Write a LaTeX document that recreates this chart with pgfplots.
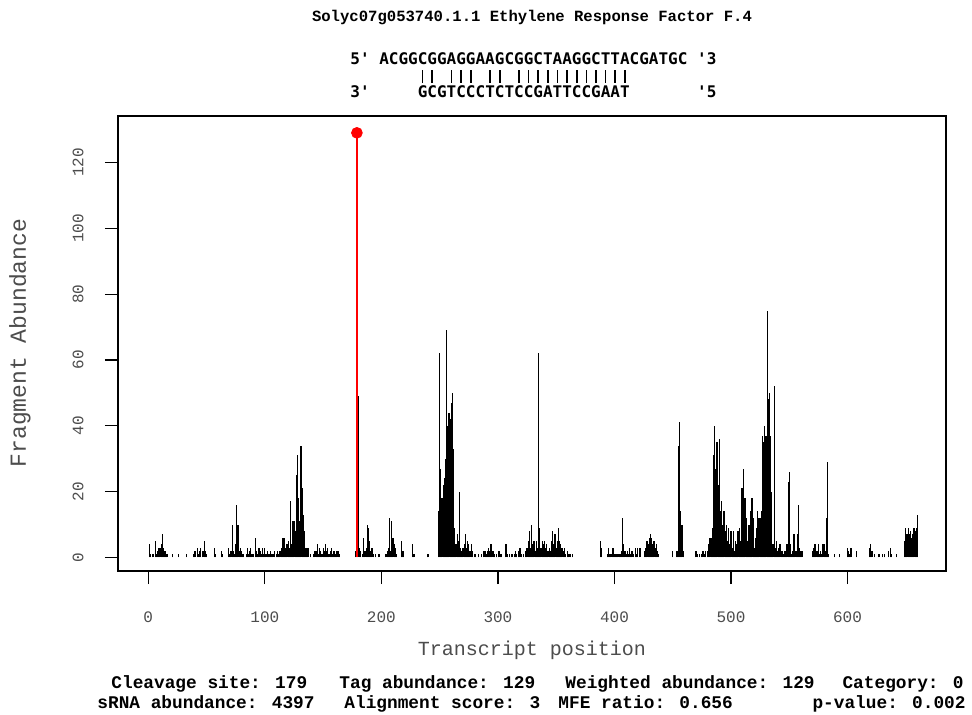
\documentclass[border=0pt]{standalone}
\usepackage{fontspec}
\usepackage{pgfplots}
\pgfplotsset{compat=1.18}
\usepackage{pgfplotstable}
\newfontfamily\cour{Liberation Mono}
\newfontfamily\dvm{DejaVu Sans Mono}
\definecolor{lab}{gray}{0.3}
\newcommand{\spc}{\hphantom{0}}
\newcommand{\br}{\makebox[4.816pt]{\rule{0.8pt}{6.5pt}}}
\newcommand{\bs}{\hspace{4.816pt}}
\pgfplotstableread{
x y
1 4
2 1
4 1
6 5
7 1
8 2
9 3
10 3
11 4
12 7
13 3
14 2
15 2
16 1
21 1
26 1
33 1
39 1
40 2
42 3
43 1
44 2
45 3
47 2
48 5
49 2
50 1
57 3
58 1
63 2
64 1
69 3
70 1
71 2
72 10
73 2
74 1
75 4
76 16
77 10
78 2
79 3
80 2
81 1
82 1
84 1
85 3
86 1
87 2
88 3
89 1
90 1
92 6
93 2
94 1
95 3
96 2
97 1
98 3
99 1
100 3
101 1
102 2
103 1
104 1
105 2
106 1
107 1
108 2
110 1
111 2
112 1
113 2
114 3
115 6
116 6
117 6
118 3
119 4
120 5
121 3
122 17
123 4
124 11
125 11
126 8
127 25
128 31
129 18
130 11
131 34
132 21
133 13
134 8
135 3
136 3
137 3
139 1
142 1
143 2
144 2
145 4
146 1
147 3
148 2
149 1
150 3
151 2
152 4
153 2
154 3
155 1
156 2
157 3
158 1
159 2
160 2
161 1
162 2
163 2
164 1
178 2
180 49
181 3
182 2
184 1
185 6
186 2
187 3
188 10
189 9
190 5
191 2
192 3
193 1
195 1
198 1
204 1
205 2
206 3
207 12
208 2
209 11
210 6
211 4
212 3
213 1
217 5
218 2
219 2
227 4
228 1
240 1
249 14
250 62
251 27
252 18
253 22
254 24
255 30
256 69
257 40
258 44
259 42
260 47
261 50
262 33
263 9
264 4
265 7
266 5
267 20
268 3
269 2
270 3
271 4
272 7
273 3
274 5
275 4
276 2
277 4
278 2
280 1
281 1
283 1
286 1
288 2
289 2
290 1
291 2
292 3
293 2
294 4
295 2
296 2
297 1
299 1
301 2
302 1
303 1
307 4
308 1
310 1
312 1
314 1
315 2
316 1
318 2
319 3
320 1
322 1
324 2
325 3
326 5
327 8
328 3
329 10
330 4
331 5
332 2
333 5
334 3
335 62
336 9
337 3
338 5
339 4
340 5
341 3
342 4
343 2
344 3
345 2
346 5
347 8
348 4
349 7
350 3
351 5
352 9
353 5
354 4
355 3
356 2
357 3
358 1
360 2
361 1
362 1
364 1
388 5
389 3
394 1
395 3
396 1
397 1
398 3
399 3
400 1
401 1
402 1
403 1
404 1
405 1
406 2
407 12
408 4
409 2
410 1
411 2
412 1
413 3
414 1
415 2
416 1
418 3
419 1
420 3
422 3
426 2
427 3
428 5
429 4
430 6
431 7
432 6
433 4
434 5
435 3
436 4
437 2
438 1
450 2
453 2
454 2
455 34
456 41
457 14
458 10
459 2
470 2
471 1
473 1
475 1
476 2
477 1
478 2
480 2
481 4
482 6
483 6
484 9
485 31
486 40
487 27
488 35
489 22
490 36
491 14
492 17
493 10
494 14
495 8
496 10
497 5
498 9
499 4
500 8
501 3
502 8
503 2
504 5
505 4
506 8
507 9
508 5
509 21
510 21
511 27
512 18
513 12
514 5
515 10
516 10
517 14
518 18
519 12
520 3
521 6
522 9
523 14
524 12
525 12
526 14
527 37
528 35
529 40
530 37
531 75
532 48
533 50
534 37
535 20
536 4
537 52
538 3
539 5
540 2
541 3
542 4
543 2
544 2
545 1
546 2
547 2
548 4
549 23
550 26
551 4
552 1
553 2
554 7
555 2
556 2
557 7
558 16
559 3
560 2
561 2
570 2
571 3
572 4
573 2
574 2
575 4
576 1
577 2
578 1
579 4
580 4
581 2
582 12
583 29
584 1
589 1
593 1
600 3
601 2
602 1
603 3
608 2
619 3
620 4
621 2
623 1
627 1
630 1
632 1
635 2
637 3
638 1
642 1
649 5
650 9
651 7
652 9
653 7
654 8
655 6
656 7
657 9
658 8
659 9
660 13
}\tdata
\begin{document}
\begin{tikzpicture}
\useasboundingbox (-59pt,-72pt) rectangle (427pt,285.5pt);
\begin{axis}[
  at={(0pt,0pt)}, anchor=south west,
  scale only axis, width=414pt, height=227.5pt,
  xmin=-26, xmax=684.5, ymin=-4.12, ymax=134.12,
  xtick={0,100,...,600}, ytick={0,20,...,120},
  tick align=outside, tick pos=left,
  major tick length=6.5pt,
  axis line style={line width=0.7pt},
  every tick/.style={black, line width=0.6pt},
  /pgf/number format/assume math mode=true,
  xticklabel style={font=\cour\fontsize{8}{9}\selectfont, text=lab, anchor=center, yshift=-16.5pt},
  yticklabel style={font=\cour\fontsize{8}{9}\selectfont, text=lab, rotate=90, anchor=center, yshift=13.5pt},
]
\addplot[ycomb, black, line width=0.6pt] table[x=x, y=y] {\tdata};
\addplot[ycomb, red, line width=0.75pt] coordinates {(179,129)};
\addplot[only marks, mark=*, red, mark size=2.7pt] coordinates {(179,129)};
\end{axis}
% title
\node[anchor=base, font=\cour\bfseries\fontsize{7.8}{9}\selectfont] at (207pt,274.5pt) {Solyc07g053740.1.1 Ethylene Response Factor F.4};
% alignment
\node[anchor=base west, inner sep=0pt, font=\dvm\bfseries\fontsize{8}{9}\selectfont] at (116pt,253pt) {5\textquotesingle\spc ACGGCGGAGGAAGCGGCTAAGGCTTACGATGC\spc\textquotesingle 3};
\node[anchor=base west, inner sep=0pt] at (116pt,244pt) {\bs\bs\bs\bs\bs\bs\bs\br\br\bs\br\br\br\bs\br\br\bs\br\br\br\br\br\br\br\br\br\br\br\br};
\node[anchor=base west, inner sep=0pt, font=\dvm\bfseries\fontsize{8}{9}\selectfont] at (116pt,236.5pt) {3\textquotesingle\spc\spc\spc\spc\spc GCGTCCCTCTCCGATTCCGAAT\spc\spc\spc\spc\spc\spc\spc\textquotesingle 5};
% axis labels
\node[anchor=base, font=\cour\fontsize{10}{12}\selectfont, text=lab] at (207pt,-42.5pt) {Transcript position};
\node[anchor=center, rotate=90, font=\cour\fontsize{11.5}{13}\selectfont, text=lab] at (-49pt,114pt) {Fragment Abundance};
% bottom info
\begin{scope}[every node/.style={inner sep=0pt, font=\cour\bfseries\fontsize{8.9}{10}\selectfont}]
\node[anchor=base west] at (-3.5pt,-59pt) {Cleavage site: 179};
\node[anchor=base west] at (110.5pt,-59pt) {Tag abundance: 129};
\node[anchor=base west] at (223.5pt,-59pt) {Weighted abundance: 129};
\node[anchor=base east] at (423pt,-59pt) {Category: 0};
\node[anchor=base west] at (-10.5pt,-69pt) {sRNA abundance: 4397};
\node[anchor=base west] at (113pt,-69pt) {Alignment score: 3};
\node[anchor=base west] at (220pt,-69pt) {MFE ratio: 0.656};
\node[anchor=base east] at (424pt,-69pt) {p-value: 0.002};
\end{scope}
\end{tikzpicture}
\end{document}
